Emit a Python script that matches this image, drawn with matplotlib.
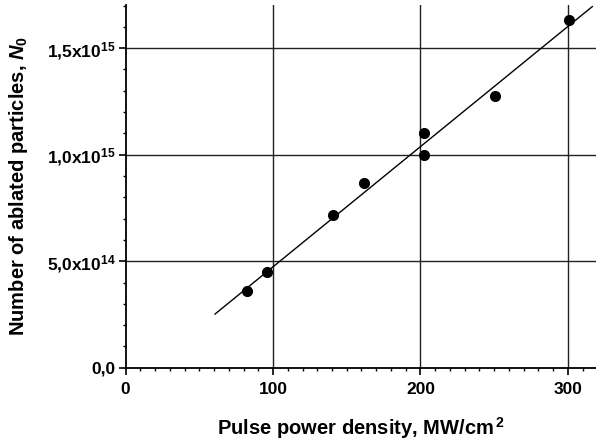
import matplotlib
matplotlib.use("Agg")
import matplotlib.pyplot as plt
from matplotlib.ticker import MultipleLocator, FixedLocator, FixedFormatter

plt.rcParams["font.family"] = ["Liberation Sans", "DejaVu Sans"]
plt.rcParams["font.weight"] = "bold"
plt.rcParams["mathtext.fontset"] = "custom"
plt.rcParams["mathtext.rm"] = "Liberation Sans:bold"
plt.rcParams["mathtext.bf"] = "Liberation Sans:bold"
plt.rcParams["mathtext.it"] = "Liberation Sans:italic:bold"

# measured points
power = [82.6, 96.1, 140.7, 161.7, 202.6, 202.6, 250.7, 300.7]
particles = [3.6e14, 4.51e14, 7.17e14, 8.66e14, 1.103e15, 0.999e15, 1.277e15, 1.632e15]

# linear fit line endpoints
fit_x = [60.7, 316.5]
fit_y = [2.52e14, 1.695e15]

x_ticks = [0, 100, 200, 300]
y_ticks = [0, 5e14, 1e15, 1.5e15]
y_tick_labels = ["0,0", r"5,0x10$^{14}$", r"1,0x10$^{15}$", r"1,5x10$^{15}$"]

fig = plt.figure(figsize=(5.96, 4.42), dpi=100)
ax = fig.add_axes([0.2106, 0.168, 0.7894, 0.821])

ax.plot(fit_x, fit_y, color="black", lw=1.0, zorder=3)
ax.plot(power, particles, "o", color="black", ms=7, zorder=4)

ax.set_xlim(0, 319)
ax.set_ylim(0, 1.703e15)

ax.xaxis.set_major_locator(FixedLocator(x_ticks))
ax.xaxis.set_minor_locator(MultipleLocator(10))
ax.yaxis.set_major_locator(FixedLocator(y_ticks))
ax.yaxis.set_major_formatter(FixedFormatter(y_tick_labels))
ax.yaxis.set_minor_locator(MultipleLocator(1e14))

for x in x_ticks[1:]:
    ax.axvline(x, color="#222222", lw=1.0, zorder=1)
for y in y_ticks[1:]:
    ax.axhline(y, color="#222222", lw=1.0, zorder=1)

ax.spines["top"].set_visible(False)
ax.spines["right"].set_visible(False)
ax.spines["left"].set_linewidth(1.3)
ax.spines["bottom"].set_linewidth(1.3)
ax.tick_params(which="major", length=5, width=1.2, labelsize=12.5)
ax.tick_params(axis="x", which="major", pad=5)
ax.tick_params(axis="y", which="major", pad=2)
ax.tick_params(which="minor", length=2.5, width=1.0)

ax.set_xlabel(r"Pulse power density, MW/cm$^{\,2}$", fontsize=14.5, fontweight="bold", labelpad=13)
ax.set_ylabel(r"Number of ablated particles, $N_0$", fontsize=14.5, fontweight="bold", labelpad=12)

fig.savefig("out.png", dpi=100)
